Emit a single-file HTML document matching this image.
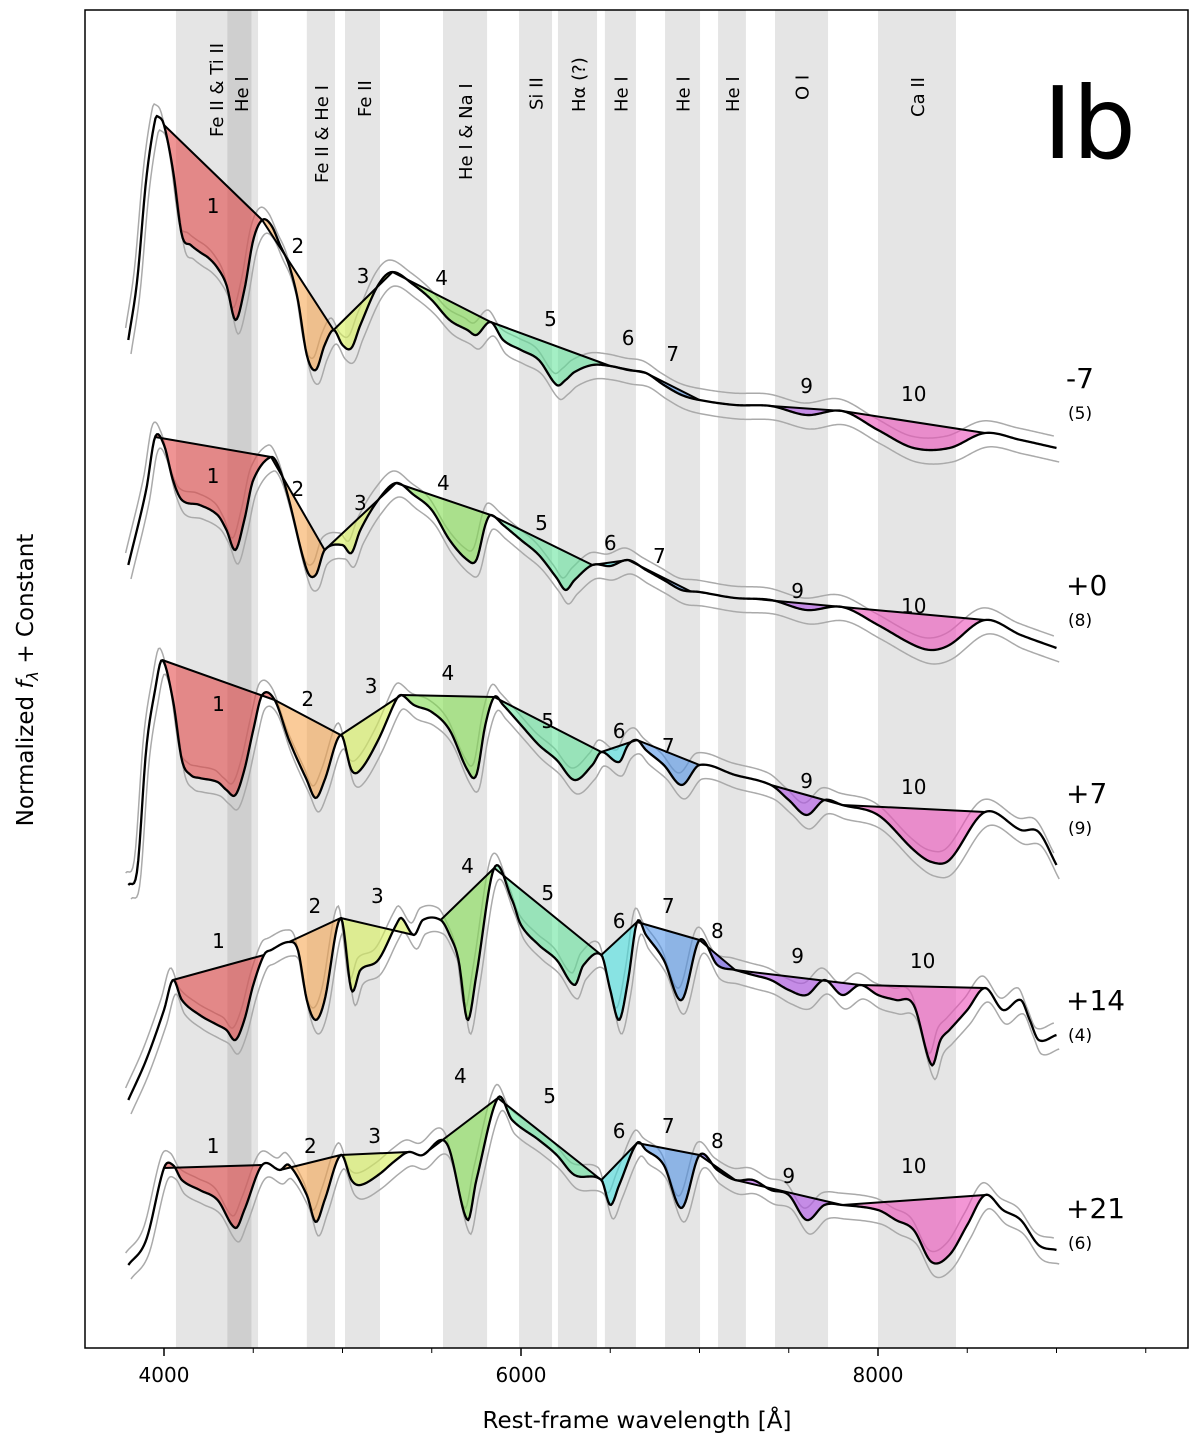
<!DOCTYPE html>
<html><head><meta charset="utf-8"><style>
body{margin:0;background:#fff;}
svg{display:block;font-family:"DejaVu Sans","Liberation Sans",sans-serif;}
</style></head><body>
<svg id="chart" width="1200" height="1440" viewBox="0 0 1200 1440" xmlns="http://www.w3.org/2000/svg">
<g id="bands"></g>
<g id="gray"></g>
<g id="fills"></g>
<g id="lines"></g>
<g id="labels"></g>
<rect x="85" y="10" width="1103" height="1338" fill="none" stroke="#000" stroke-width="1.5"/>
<g id="axis"></g>
<text x="637" y="1428" font-size="23" text-anchor="middle">Rest-frame wavelength [Å]</text>
<text transform="translate(33,680) rotate(-90)" font-size="23" text-anchor="middle">Normalized <tspan font-style="italic">f</tspan><tspan font-style="italic" font-size="16" dy="5">λ</tspan><tspan dy="-5"> + Constant</tspan></text>
<text x="1043" y="158" font-size="100">Ib</text>
</svg>
<script>
const bandRanges=[[4067,4527],[4800,4958],[5014,5210],[5563,5810],[5989,6174],[6207,6426],[6470,6644],[6807,7003],[7104,7260],[7423,7720],[8000,8437]];
const darkBand=[4355,4490];
const bandLabels=["Fe II & Ti II","He I","Fe II & He I","Fe II","He I & Na I","Si II","Hα (?)","He I","He I","He I","O I","Ca II"];
const bandLabelWl=[4290,4430,4880,5120,5685,6080,6320,6557,6905,7182,7571,8218];
const bandLabelBase=[137,112,183,117,180,110,112,112,112,112,100,117];
const xTicks=[4000,6000,8000];
const xMinor=[4500,5000,5500,6500,7000,7500,8500,9000,9500];

const wl1=[3800,3850,3900,3950,3970,4000,4050,4100,4150,4200,4250,4300,4350,4400,4450,4500,4550,4600,4650,4700,4750,4800,4850,4900,4950,5000,5050,5100,5200,5280,5400,5500,5600,5700,5750,5830,5900,6000,6100,6200,6250,6300,6400,6500,6600,6700,6800,6900,7000,7200,7400,7600,7800,8000,8200,8400,8600,8800,9000];
const fx1=[10.60,11.20,12.20,12.80,12.83,12.75,12.30,11.65,11.55,11.48,11.42,11.32,11.15,10.80,11.10,11.60,11.80,11.75,11.55,11.35,11.00,10.45,10.30,10.55,10.70,10.55,10.52,10.75,11.15,11.28,11.15,11.00,10.80,10.70,10.65,10.78,10.60,10.50,10.40,10.15,10.20,10.28,10.35,10.34,10.30,10.27,10.15,10.05,10.00,9.95,9.94,9.85,9.89,9.70,9.52,9.52,9.67,9.60,9.52];
const feat1=[[1,4000,4550],[2,4550,4950],[3,4950,5280],[4,5280,5830],[5,5830,6500],[6,6500,6700],[7,6700,7000],[9,7400,7800],[10,7800,8600]];
const lab1=[11.95,11.55,11.25,11.23,10.82,10.63,10.47,10.15,10.07];

const wl2=[3800,3900,3950,4000,4050,4100,4200,4300,4350,4400,4450,4500,4600,4650,4700,4800,4850,4900,5000,5050,5100,5200,5300,5400,5500,5600,5700,5750,5800,5830,5900,6000,6100,6200,6250,6300,6400,6500,6600,6700,6800,6900,7000,7200,7400,7600,7800,8000,8200,8300,8400,8600,8800,9000];
const fx2=[8.35,9.10,9.63,9.55,9.20,9.00,8.95,8.85,8.70,8.50,8.80,9.20,9.43,9.30,9.00,8.30,8.25,8.50,8.55,8.47,8.70,9.00,9.17,9.05,8.90,8.60,8.40,8.40,8.75,8.85,8.75,8.60,8.45,8.22,8.10,8.20,8.35,8.34,8.40,8.30,8.20,8.10,8.08,8.02,8.00,7.90,7.93,7.75,7.55,7.50,7.55,7.80,7.65,7.52];
const feat2=[[1,3950,4600],[2,4600,4900],[3,4900,5300],[4,5300,5830],[5,5830,6400],[6,6400,6600],[7,6600,6950],[9,7300,7800],[10,7800,8600]];
const lab2=[9.25,9.12,8.98,9.18,8.78,8.58,8.45,8.10,7.95];

const wl3=[3800,3850,3900,3950,3990,4050,4100,4150,4200,4300,4350,4400,4450,4500,4550,4620,4700,4800,4850,4900,4990,5050,5100,5200,5300,5330,5400,5500,5600,5700,5750,5800,5850,5900,6000,6100,6200,6300,6400,6450,6550,6600,6650,6700,6800,6900,7000,7200,7400,7500,7600,7700,7800,8000,8200,8300,8400,8600,8800,8900,9000];
const fx3=[5.15,5.30,6.50,7.10,7.40,7.00,6.40,6.25,6.22,6.18,6.10,6.05,6.30,6.70,7.05,7.00,6.60,6.20,6.02,6.20,6.65,6.30,6.30,6.60,7.00,7.05,6.95,6.88,6.70,6.30,6.25,6.75,7.03,6.95,6.75,6.55,6.40,6.20,6.35,6.48,6.38,6.55,6.60,6.50,6.35,6.15,6.35,6.25,6.15,6.00,5.85,6.00,5.95,5.85,5.50,5.38,5.40,5.88,5.70,5.68,5.35];
const feat3=[[1,3990,4620],[2,4620,4990],[3,4990,5330],[4,5330,5850],[5,5850,6450],[6,6450,6650],[7,6650,7000],[9,7400,7800],[10,7800,8600]];
const lab3=[6.97,7.02,7.15,7.28,6.80,6.70,6.55,6.20,6.14];

const wl4=[3800,3900,4000,4050,4100,4200,4300,4350,4400,4450,4500,4560,4600,4700,4750,4800,4850,4900,4990,5050,5100,5200,5300,5330,5400,5450,5550,5600,5650,5700,5750,5850,5950,6000,6100,6200,6300,6350,6450,6500,6550,6600,6650,6700,6800,6900,7000,7100,7200,7300,7400,7500,7600,7700,7800,7900,8000,8100,8200,8300,8350,8400,8500,8600,8700,8800,8850,8900,9000];
const fx4=[3.00,3.40,3.90,4.20,4.00,3.85,3.75,3.70,3.60,3.80,4.15,4.45,4.50,4.58,4.50,4.00,3.80,4.00,4.82,4.10,4.30,4.40,4.75,4.82,4.65,4.80,4.80,4.65,4.40,3.80,4.25,5.32,5.00,4.75,4.55,4.40,4.15,4.35,4.45,4.10,3.80,4.20,4.78,4.65,4.40,4.00,4.60,4.35,4.30,4.25,4.20,4.10,4.05,4.20,4.05,4.15,4.05,4.00,3.95,3.35,3.60,3.70,3.90,4.12,3.90,4.00,3.80,3.60,3.65];
const feat4=[[1,4050,4560],[2,4700,4990],[3,4990,5400],[4,5550,5850],[5,5850,6450],[6,6450,6650],[7,6650,7000],[8,7000,7200],[9,7200,7900],[10,7900,8600]];
const lab4=[4.60,4.95,5.05,5.35,5.08,4.80,4.95,4.70,4.45,4.40];

const wl5=[3800,3900,4000,4050,4100,4200,4300,4400,4450,4550,4650,4700,4800,4850,4900,4990,5050,5100,5200,5300,5370,5450,5550,5600,5700,5750,5870,5950,6100,6200,6300,6450,6500,6550,6650,6700,6800,6900,7000,7100,7200,7300,7400,7500,7600,7700,7800,8000,8100,8200,8300,8400,8500,8600,8700,8800,8900,9000];
const fx5=[1.35,1.60,2.32,2.35,2.20,2.10,2.00,1.72,1.90,2.35,2.30,2.35,2.05,1.78,2.00,2.45,2.20,2.15,2.25,2.40,2.48,2.45,2.60,2.50,1.80,2.20,3.02,2.80,2.60,2.45,2.25,2.20,1.95,2.15,2.57,2.50,2.35,1.92,2.45,2.30,2.20,2.20,2.10,2.05,1.80,1.95,1.95,1.90,1.80,1.70,1.38,1.45,1.75,2.05,1.90,1.80,1.55,1.50];
const feat5=[[1,4000,4550],[2,4650,4990],[3,4990,5370],[4,5450,5870],[5,5870,6450],[6,6450,6650],[7,6650,7000],[8,7000,7200],[9,7200,7800],[10,7800,8600]];
const lab5=[2.55,2.55,2.65,3.25,3.05,2.70,2.75,2.60,2.25,2.35];

const epochs=["-7","+0","+7","+14","+21"];
const counts=["(5)","(8)","(9)","(4)","(6)"];
const epochFlux=[10.22,8.15,6.07,4.00,1.92];

const featColors={1:"rgba(225,60,60,0.55)",2:"rgba(245,160,70,0.55)",3:"rgba(215,240,90,0.6)",4:"rgba(130,220,80,0.6)",5:"rgba(90,225,150,0.55)",6:"rgba(60,225,225,0.55)",7:"rgba(70,140,230,0.55)",8:"rgba(100,80,225,0.6)",9:"rgba(175,80,230,0.6)",10:"rgba(235,80,185,0.6)"};

const NS="http://www.w3.org/2000/svg";
function X(l){return 164+(l-4000)*0.1785;}
function Y(f){return 1400-f*100;}
function mk(tag,attrs,parent){const e=document.createElementNS(NS,tag);for(const k in attrs)e.setAttribute(k,attrs[k]);parent.appendChild(e);return e;}
// smooth (Catmull-Rom) interpolation of the data
function interp(wl,fx,l){
  const n=wl.length;
  if(l<=wl[0])return fx[0];
  if(l>=wl[n-1])return fx[n-1];
  let i=0;while(i<n-2&&l>wl[i+1])i++;
  const t=(l-wl[i])/(wl[i+1]-wl[i]);
  const h=wl[i+1]-wl[i];
  const m0=i>0?(fx[i+1]-fx[i-1])/(wl[i+1]-wl[i-1])*h:(fx[i+1]-fx[i]);
  const m1=i<n-2?(fx[i+2]-fx[i])/(wl[i+2]-wl[i])*h:(fx[i+1]-fx[i]);
  const t2=t*t,t3=t2*t;
  return (2*t3-3*t2+1)*fx[i]+(t3-2*t2+t)*m0+(-2*t3+3*t2)*fx[i+1]+(t3-t2)*m1;
}
function sample(wl,fx,a,b,shift,off){
  const pts=[];
  for(let l=a;l<b;l+=8)pts.push([X(l+shift),Y(interp(wl,fx,l)+off)]);
  pts.push([X(b+shift),Y(interp(wl,fx,b)+off)]);
  return pts;
}

const gB=document.getElementById('bands');
bandRanges.forEach(r=>{
  const e=mk('rect',{x:X(r[0]),y:10,width:X(r[1])-X(r[0]),height:1338,fill:'#e5e5e5'},gB);
  
  
});
const db=mk('rect',{x:X(darkBand[0]),y:10,width:X(darkBand[1])-X(darkBand[0]),height:1338,fill:'#cfcfcf'},gB);


const gL=document.getElementById('labels');
bandLabels.forEach((t,i)=>{
  const x=X(bandLabelWl[i])+7,y=bandLabelBase[i];
  const e=mk('text',{transform:`translate(${x},${y}) rotate(-90)`,'font-size':18},gL);
  e.textContent=t;
  
  
});

const spectra=[[wl1,fx1,feat1,lab1],[wl2,fx2,feat2,lab2],[wl3,fx3,feat3,lab3],[wl4,fx4,feat4,lab4],[wl5,fx5,feat5,lab5]];
const gG=document.getElementById('gray'),gF=document.getElementById('fills'),gS=document.getElementById('lines');
spectra.forEach((s,si)=>{
  const [wl,fx,ft,lab]=s;
  [[0.12,-15],[-0.14,15]].forEach(o=>{
    const pts=sample(wl,fx,3800,9000,o[1],o[0]).map(q=>q.join(',')).join(' ');
    const e=mk('polyline',{points:pts,fill:'none',stroke:'#aaa','stroke-width':1.5},gG);
    
    
  });
  ft.forEach((f,fi)=>{
    const [n,a,b]=f;
    const pts=sample(wl,fx,a,b,0,0);
    const p=mk('polygon',{points:pts.map(q=>q.join(',')).join(' '),fill:featColors[n]},gF);
    
    
    const c=mk('line',{x1:X(a),y1:Y(interp(wl,fx,a)),x2:X(b),y2:Y(interp(wl,fx,b)),stroke:'#000','stroke-width':2},gS);
    
    
    const t=mk('text',{x:X((a+b)/2),y:Y(lab[fi])+8,'font-size':20,'text-anchor':'middle'},gL);
    t.textContent=n;
    
    
  });
  const e=mk('polyline',{points:sample(wl,fx,3800,9000,0,0).map(q=>q.join(',')).join(' '),fill:'none',stroke:'#000','stroke-width':2.3,'stroke-linejoin':'round'},gS);
  
  
  const t=mk('text',{x:1066,y:Y(epochFlux[si])+10,'font-size':28},gL);
  t.textContent=epochs[si];
  
  
  const c=mk('text',{x:1068,y:Y(epochFlux[si])+41,'font-size':17},gL);
  c.textContent=counts[si];
  
  
});

const gA=document.getElementById('axis');
xTicks.forEach(v=>{
  const l=mk('line',{x1:X(v),x2:X(v),y1:1348,y2:1356,stroke:'#000','stroke-width':1.5},gA);
  
  
  const t=mk('text',{x:X(v),y:1382,'font-size':20,'text-anchor':'middle'},gA);
  t.textContent=v;
  
  
});
xMinor.forEach(v=>{
  const l=mk('line',{x1:X(v),x2:X(v),y1:1348,y2:1353,stroke:'#000','stroke-width':1},gA);
  
  
});
</script>
</body></html>
